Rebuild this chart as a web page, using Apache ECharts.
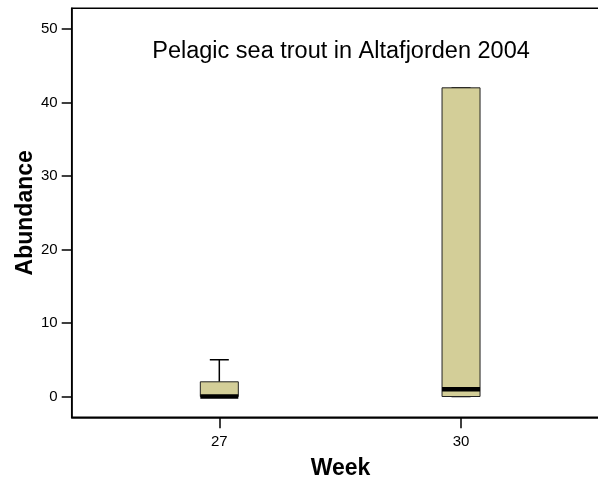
<!DOCTYPE html>
<html>
<head>
<meta charset="utf-8">
<script src="https://cdn.jsdelivr.net/npm/echarts@6/dist/echarts.min.js"></script>
<style>
html,body{margin:0;padding:0;background:#fff;}
#main{width:598px;height:479px;}
</style>
</head>
<body>
<div id="main"></div>
<script>
// Data
const weeks = [27, 30];
const whiskerLow = [0, 0];
const quartile1 = [0, 0];
const medians = [0, 1];
const quartile3 = [2, 42];
const whiskerHigh = [5, 42];
const yTicks = [0, 10, 20, 30, 40, 50];
const titleText = 'Pelagic sea trout in Altafjorden 2004';

const boxData = weeks.map((w, i) => [w, whiskerLow[i], quartile1[i], medians[i], quartile3[i], whiskerHigh[i]]);

const FONT = "'Liberation Sans', Arial, sans-serif";
const chart = echarts.init(document.getElementById('main'), null, {renderer: 'canvas'});

const BOX_W = 38, CAP_W = 19;

chart.setOption({
  animation: false,
  backgroundColor: '#fff',
  textStyle: {fontFamily: FONT, color: '#000'},
  title: {
    text: titleText,
    left: 336,
    textAlign: 'center',
    top: 35,
    textStyle: {fontFamily: FONT, fontSize: 23.5, fontWeight: 'normal', color: '#000'}
  },
  grid: {
    left: 71.7, top: 8.3, width: 537.6, height: 409,
    outerBoundsMode: 'none', containLabel: false,
    show: true, borderColor: '#000', borderWidth: 1.5, backgroundColor: 'transparent'
  },
  xAxis: {
    type: 'value',
    min: 25.168, max: 31.84,
    splitLine: {show: false},
    axisLine: {show: true, onZero: false, lineStyle: {color: '#000', width: 1.5}},
    axisTick: {show: true, customValues: weeks, length: 11, lineStyle: {color: '#000', width: 1.5}},
    axisLabel: {customValues: weeks, fontSize: 15, color: '#000', margin: 17, fontFamily: FONT},
    name: 'Week', nameLocation: 'middle', nameGap: 39.5, nameMoveOverlap: false,
    nameTextStyle: {fontSize: 23, fontWeight: 'bold', color: '#000', fontFamily: FONT}
  },
  yAxis: {
    type: 'value',
    min: -2.83, max: 52.82,
    splitLine: {show: false},
    axisLine: {show: true, onZero: false, lineStyle: {color: '#000', width: 1.5}},
    axisTick: {show: true, customValues: yTicks, length: 10, lineStyle: {color: '#000', width: 1.5}},
    axisLabel: {customValues: yTicks, fontSize: 15, color: '#000', margin: 14, fontFamily: FONT},
    name: 'Abundance', nameLocation: 'middle', nameGap: 35, nameMoveOverlap: false,
    nameTextStyle: {fontSize: 23, fontWeight: 'bold', color: '#000', fontFamily: FONT}
  },
  series: [{
    type: 'custom',
    data: boxData,
    renderItem: function (params, api) {
      const x = api.value(0);
      const pLow = api.coord([x, api.value(1)]);
      const pQ1 = api.coord([x, api.value(2)]);
      const pMed = api.coord([x, api.value(3)]);
      const pQ3 = api.coord([x, api.value(4)]);
      const pHigh = api.coord([x, api.value(5)]);
      const c = pQ1[0];
      const line = (x1, y1, x2, y2, w) => ({
        type: 'line', shape: {x1, y1, x2, y2},
        style: {stroke: '#000', lineWidth: w}
      });
      return {
        type: 'group',
        children: [
          line(c, pQ3[1], c, pHigh[1], 1.5),
          line(c - CAP_W / 2, pHigh[1], c + CAP_W / 2, pHigh[1], 1.5),
          line(c, pQ1[1], c, pLow[1], 1.5),
          line(c - CAP_W / 2, pLow[1], c + CAP_W / 2, pLow[1], 1.5),
          {
            type: 'rect',
            shape: {x: c - BOX_W / 2, y: pQ3[1], width: BOX_W, height: pQ1[1] - pQ3[1]},
            style: {fill: '#d3ce98', stroke: '#222', lineWidth: 1}
          },
          line(c - BOX_W / 2, pMed[1], c + BOX_W / 2, pMed[1], 4.5)
        ]
      };
    }
  }]
});
</script>
</body>
</html>
